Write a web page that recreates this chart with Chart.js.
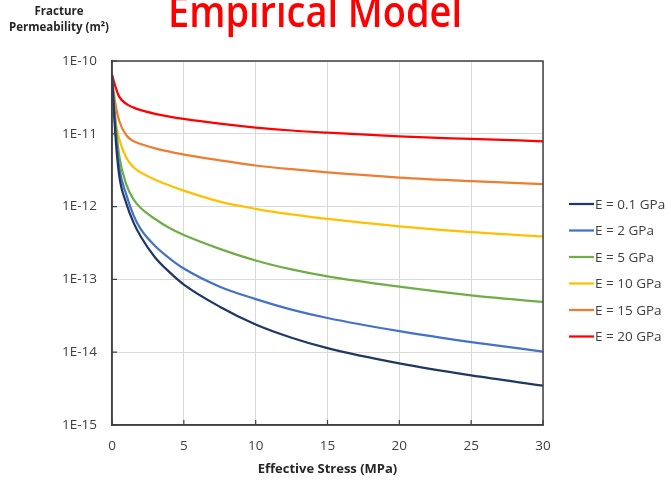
<!DOCTYPE html>
<html>
<head>
<meta charset="utf-8">
<script src="https://cdn.jsdelivr.net/npm/chart.js@4.4.1/dist/chart.umd.min.js"></script>
<style>
  html, body { margin: 0; padding: 0; background: #fff; }
  #wrap { position: relative; width: 671px; height: 480px; }
</style>
</head>
<body>
<div id="wrap"><canvas id="permChart" width="671" height="480"></canvas></div>
<script>
// effective stress (MPa) where permeability was read
var stress = [0, 0.25, 0.5, 1, 1.5, 2, 3, 4, 5, 7.5, 10, 12.5, 15, 20, 25, 30];

// fracture permeability (m2) for each Young's modulus
var permE01 = [6.46e-11, 8.9e-12, 2.69e-12, 1.10e-12, 6.03e-13, 3.89e-13, 2.0e-13, 1.26e-13, 8.5e-14, 4.22e-14, 2.40e-14, 1.58e-14, 1.135e-14, 7.0e-15, 4.79e-15, 3.47e-15];
var permE2  = [6.17e-11, 1.10e-11, 3.47e-12, 1.45e-12, 7.59e-13, 4.90e-13, 2.88e-13, 1.95e-13, 1.41e-13, 7.94e-14, 5.37e-14, 3.85e-14, 2.95e-14, 1.95e-14, 1.38e-14, 1.02e-14];
var permE5  = [5.0e-11, 1.41e-11, 5.0e-12, 2.0e-12, 1.26e-12, 9.55e-13, 6.76e-13, 5.07e-13, 4.07e-13, 2.63e-13, 1.82e-13, 1.37e-13, 1.10e-13, 7.94e-14, 6.03e-14, 4.9e-14];
var permE10 = [5.0e-11, 1.51e-11, 8.51e-12, 4.68e-12, 3.47e-12, 2.95e-12, 2.34e-12, 1.95e-12, 1.66e-12, 1.17e-12, 9.33e-13, 7.8e-13, 6.76e-13, 5.37e-13, 4.47e-13, 3.89e-13];
var permE15 = [5.5e-11, 2.51e-11, 1.51e-11, 9.55e-12, 7.94e-12, 7.24e-12, 6.31e-12, 5.69e-12, 5.19e-12, 4.32e-12, 3.67e-12, 3.26e-12, 2.95e-12, 2.51e-12, 2.24e-12, 2.04e-12];
var permE20 = [6.46e-11, 4.37e-11, 3.24e-11, 2.57e-11, 2.29e-11, 2.11e-11, 1.88e-11, 1.72e-11, 1.60e-11, 1.38e-11, 1.22e-11, 1.11e-11, 1.035e-11, 9.2e-12, 8.5e-12, 7.9e-12];

var seriesNames = ["E = 0.1 GPa", "E = 2 GPa", "E = 5 GPa", "E = 10 GPa", "E = 15 GPa", "E = 20 GPa"];
var seriesColors = ["#203864", "#4472c4", "#70ad47", "#ffc000", "#ed7d31", "#ff0000"];

var yTickValues = [1e-15, 1e-14, 1e-13, 1e-12, 1e-11, 1e-10];
var yTickLabels = ["1E-15", "1E-14", "1E-13", "1E-12", "1E-11", "1E-10"];

var FONT = "'Open Sans', 'Noto Sans', sans-serif";
var AXIS_DARK = "#404040";

function toPoints(vals) {
  return stress.map(function(s, i) { return { x: s, y: vals[i] }; });
}

var allSeries = [permE01, permE2, permE5, permE10, permE15, permE20];
var datasets = allSeries.map(function(vals, i) {
  return {
    label: seriesNames[i],
    data: toPoints(vals),
    borderColor: seriesColors[i],
    backgroundColor: seriesColors[i],
    borderWidth: 2.25,
    pointRadius: 0,
    cubicInterpolationMode: "monotone",
    fill: false
  };
});

// box around the plot plus the short inward tick marks
var plotFrame = {
  id: "plotFrame",
  afterDatasetsDraw: function(chart) {
    var ctx = chart.ctx, a = chart.chartArea;
    var xs = chart.scales.x, ys = chart.scales.y;
    ctx.save();
    ctx.strokeStyle = AXIS_DARK;
    ctx.lineWidth = 1.5;
    ctx.strokeRect(a.left, a.top, a.right - a.left, a.bottom - a.top);
    ctx.lineWidth = 1.2;
    ctx.beginPath();
    yTickValues.forEach(function(v) {
      var py = ys.getPixelForValue(v);
      ctx.moveTo(a.left, py);
      ctx.lineTo(a.left + 5, py);
    });
    xs.ticks.forEach(function(t) {
      var px = xs.getPixelForValue(t.value);
      ctx.moveTo(px, a.bottom);
      ctx.lineTo(px, a.bottom - 5);
    });
    ctx.stroke();
    ctx.restore();
  }
};

// headline, axis caption and the legend on the right
var annotations = {
  id: "annotations",
  afterDraw: function(chart) {
    var ctx = chart.ctx;
    ctx.save();
    ctx.fillStyle = "#ff0000";
    ctx.font = "600 44px " + FONT;
    ctx.textAlign = "left";
    ctx.textBaseline = "alphabetic";
    ctx.fillText("Empirical Model", 168, 27, 294);

    ctx.fillStyle = "#262626";
    ctx.font = "bold 11.5px " + FONT;
    ctx.textAlign = "center";
    ctx.textBaseline = "middle";
    ctx.fillText("Fracture", 59, 12);
    ctx.fillText("Permeability (m\u00b2)", 59, 28);

    ctx.font = "13.5px " + FONT;
    ctx.textAlign = "left";
    chart.data.datasets.forEach(function(ds, i) {
      var ly = 204 + i * 26.5;
      ctx.strokeStyle = ds.borderColor;
      ctx.lineWidth = 2.25;
      ctx.beginPath();
      ctx.moveTo(569, ly);
      ctx.lineTo(594, ly);
      ctx.stroke();
      ctx.fillStyle = "#404040";
      ctx.fillText(ds.label, 595, ly + 1);
    });
    ctx.restore();
  }
};

new Chart(document.getElementById("permChart"), {
  type: "line",
  data: { datasets: datasets },
  options: {
    responsive: false,
    animation: false,
    devicePixelRatio: 1,
    layout: { padding: { top: 61, right: 128, left: 0, bottom: 0 } },
    plugins: {
      legend: { display: false },
      tooltip: { enabled: false }
    },
    scales: {
      x: {
        type: "linear",
        min: 0,
        max: 30,
        ticks: {
          stepSize: 5,
          padding: 13,
          color: "#404040",
          font: { family: FONT, size: 13.5 }
        },
        grid: { color: "#d9d9d9", lineWidth: 1, drawTicks: false },
        border: { color: AXIS_DARK, width: 1.5 },
        title: {
          display: true,
          text: "Effective Stress (MPa)",
          color: "#262626",
          font: { family: FONT, size: 13, weight: "bold" },
          padding: { top: 0, bottom: 3 }
        },
        afterFit: function(s) { s.height = 55; }
      },
      y: {
        type: "logarithmic",
        min: 1e-15,
        max: 1e-10,
        afterBuildTicks: function(s) {
          s.ticks = yTickValues.map(function(v) { return { value: v }; });
        },
        ticks: {
          padding: 15,
          color: "#404040",
          font: { family: FONT, size: 13.5 },
          callback: function(v) {
            var k = yTickValues.indexOf(v);
            return k >= 0 ? yTickLabels[k] : "";
          }
        },
        grid: { color: "#d9d9d9", lineWidth: 1, drawTicks: false },
        border: { color: AXIS_DARK, width: 1.5 },
        afterFit: function(s) { s.width = 112; }
      }
    }
  },
  plugins: [plotFrame, annotations]
});
</script>
</body>
</html>
